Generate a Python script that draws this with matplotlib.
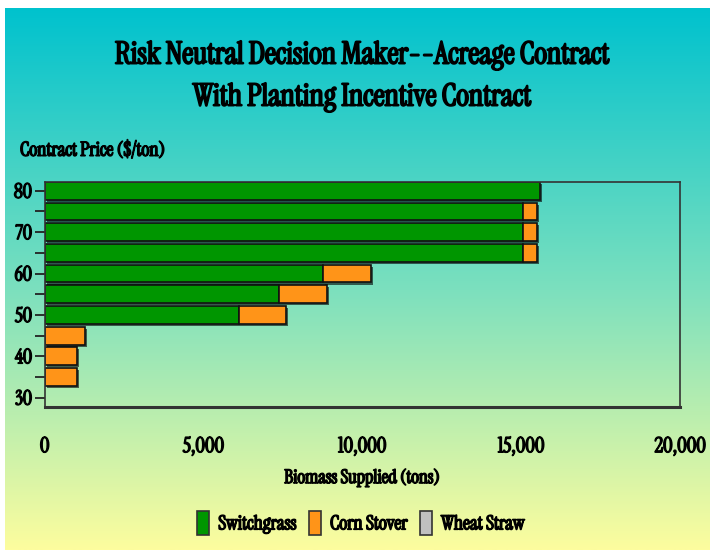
import matplotlib

matplotlib.use("Agg")
import matplotlib.pyplot as plt
import matplotlib.patheffects as pe
import numpy as np
from matplotlib.patches import Patch

# data
prices = [35, 40, 45, 50, 55, 60, 65, 70, 75, 80]
switchgrass = [0, 0, 0, 6100, 7360, 8760, 15060, 15060, 15060, 15570]
corn_stover = [1020, 1020, 1260, 1490, 1510, 1510, 440, 440, 440, 0]
wheat_straw = [0, 0, 0, 0, 0, 0, 0, 0, 0, 0]
series_names = ["Switchgrass", "Corn Stover", "Wheat Straw"]
colors = ["#009600", "#ff9418", "#c0c0c0"]
xtick_vals = [0, 5000, 10000, 15000, 20000]
xtick_labels = ["0", "5,000", "10,000", "15,000", "20,000"]

# condensed serif, thickened with a stroke to look bold
plt.rcParams["font.family"] = ["Instrument Serif", "DejaVu Serif"]
BOLD = [pe.withStroke(linewidth=1.1, foreground="black")]
BOLD_BIG = [pe.withStroke(linewidth=1.4, foreground="black")]

W, H = 710, 551
fig = plt.figure(figsize=(W / 100, H / 100), dpi=100, facecolor="white")

# gradient background
bg = fig.add_axes([0, 0, 1, 1], zorder=0)
bg.set_xlim(0, W)
bg.set_ylim(H, 0)
bg.axis("off")
stops_y = np.array([8, 290, 550])
stops_c = np.array([[0, 194, 206], [124, 224, 190], [253, 253, 158]]) / 255
ys = np.linspace(8, 550, 300)
grad = np.stack([np.interp(ys, stops_y, stops_c[:, k]) for k in range(3)], axis=-1)
bg.imshow(grad[:, None, :], extent=(5, W, 550, 8), aspect="auto", interpolation="bilinear")

ax = fig.add_axes([44.7 / W, 1 - 407 / H, (680.3 - 44.7) / W, (407 - 181.7) / H], zorder=1)
ax.set_facecolor("none")

shadow = [pe.SimplePatchShadow(offset=(1.5, -1.5), shadow_rgbFace="k", alpha=0.6), pe.Normal()]
left = np.zeros(len(prices))
for vals, name, c in zip([switchgrass, corn_stover, wheat_straw], series_names, colors):
    vals = np.array(vals, dtype=float)
    bars = ax.barh(prices, vals, left=left, height=4.3, color=c, edgecolor="#111111",
                   linewidth=1.2, label=name)
    for b, v in zip(bars, vals):
        if v <= 0:
            b.set_visible(False)
        else:
            b.set_path_effects(shadow)
    left += vals

ax.set_xlim(0, 20000)
ax.set_ylim(27.75, 82.2)
ax.set_yticks([30, 40, 50, 60, 70, 80])
ax.set_yticks([35, 45, 55, 65, 75], minor=True)
ax.tick_params(axis="y", which="both", length=7, width=1.3, color="#222222", pad=2, labelsize=14.5)
ax.set_xticks(xtick_vals)
ax.set_xticklabels(xtick_labels)
ax.tick_params(axis="x", length=0, pad=21, labelsize=15)
for lbl in ax.get_xticklabels() + ax.get_yticklabels():
    lbl.set_path_effects(BOLD)
for s in ax.spines.values():
    s.set_color("#333333")
    s.set_linewidth(1.2)
ax.spines["bottom"].set_linewidth(2.2)

fig.text(362 / W, 1 - 55 / H, "Risk Neutral Decision Maker--Acreage Contract",
         ha="center", va="center", fontsize=22, path_effects=BOLD_BIG)
fig.text(362 / W, 1 - 97 / H, "With Planting Incentive Contract",
         ha="center", va="center", fontsize=22, path_effects=BOLD_BIG)
fig.text(20 / W, 1 - 150 / H, "Contract Price ($/ton)", ha="left", va="center",
         fontsize=14, path_effects=BOLD)
fig.text(362 / W, 1 - 478 / H, "Biomass Supplied (tons)", ha="center", va="center",
         fontsize=13.5, path_effects=BOLD)

handles = [Patch(facecolor=c, edgecolor="#333333", linewidth=1.2) for c in colors]
leg = fig.legend(handles, series_names, loc="center", bbox_to_anchor=(361 / W, 1 - 523 / H),
                 ncol=3, frameon=False, fontsize=14, handlelength=0.65, handleheight=1.6,
                 handletextpad=0.45, columnspacing=0.6)
for t in leg.get_texts():
    t.set_path_effects(BOLD)

fig.savefig("out.png", dpi=100, facecolor="white")
